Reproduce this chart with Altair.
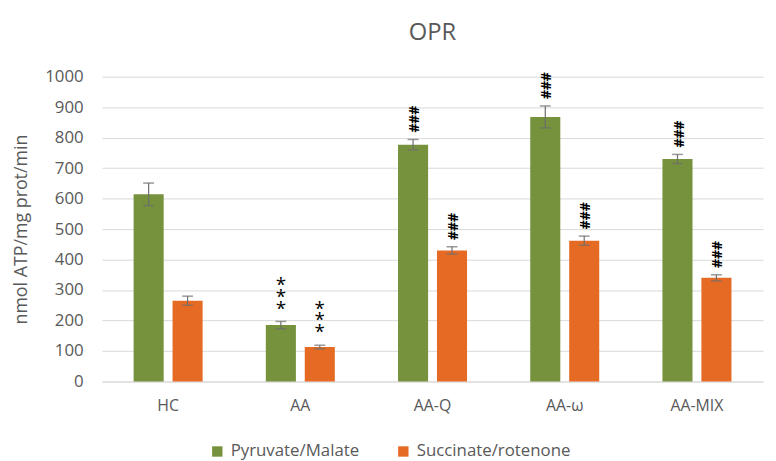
import altair as alt
import pandas as pd

categories = ["HC", "AA", "AA-Q", "AA-ω", "AA-MIX"]
series = ["Pyruvate/Malate", "Succinate/rotenone"]
pm_vals = [614, 185, 777, 868, 730]
pm_err = [37, 12, 17, 36, 15]
sr_vals = [265, 113, 430, 462, 340]
sr_err = [15, 6, 12, 15, 10]
pm_sig = ["", "***", "###", "###", "###"]
sr_sig = ["", "***", "###", "###", "###"]
colors = ["#76923C", "#E56B25"]
y_ticks = list(range(0, 1001, 100))

rows = []
for i, c in enumerate(categories):
    for s, v, e, g in [(series[0], pm_vals[i], pm_err[i], pm_sig[i]),
                       (series[1], sr_vals[i], sr_err[i], sr_sig[i])]:
        rows.append({"cat": c, "series": s, "value": v, "lo": v - e, "hi": v + e,
                     "star": "*" if g == "***" else "", "hash": g if g == "###" else ""})
df = pd.DataFrame(rows)

FONT = "Open Sans"
GRAY = "#595959"

y_axis = alt.Axis(values=y_ticks, format="d", domain=False, ticks=False,
                  gridColor="#D9D9D9", labelPadding=19, labelFontSize=17,
                  labelColor=GRAY, labelFont=FONT, titleFont=FONT,
                  titleFontSize=18, titleFontWeight="normal", titleColor=GRAY,
                  titlePadding=14)
y_scale = alt.Scale(domain=[0, 1000])


def Y(field):
    return alt.Y(field, title="nmol ATP/mg prot/min", scale=y_scale, axis=y_axis)


x = alt.X("cat:N", sort=categories, title=None,
          scale=alt.Scale(paddingInner=0.478, paddingOuter=0.239),
          axis=alt.Axis(labelAngle=0, domain=True, domainColor="#D9D9D9", ticks=False,
                        labelPadding=16, labelFontSize=16, labelColor=GRAY, labelFont=FONT))
xo = alt.XOffset("series:N", sort=series, scale=alt.Scale(paddingInner=0.228, paddingOuter=0))

base = alt.Chart(df).encode(x=x, xOffset=xo)

bars = base.mark_bar().encode(
    y=Y("value:Q"),
    color=alt.Color("series:N", sort=series, scale=alt.Scale(domain=series, range=colors),
                    legend=alt.Legend(title=None, orient="none", direction="horizontal",
                                      legendX=108, legendY=370, symbolType="square",
                                      symbolSize=110, symbolStrokeWidth=0,
                                      labelFontSize=17, labelColor=GRAY, labelFont=FONT,
                                      columnPadding=36, labelOffset=5)),
)

err = base.mark_rule(color="#6E6E6E", strokeWidth=1.2).encode(y=Y("lo:Q"), y2="hi:Q")
cap_lo = base.mark_tick(color="#6E6E6E", orient="horizontal", size=11, thickness=1.5).encode(y=Y("lo:Q"))
cap_hi = base.mark_tick(color="#6E6E6E", orient="horizontal", size=11, thickness=1.5).encode(y=Y("hi:Q"))

star_layers = [
    base.mark_text(fontSize=19, baseline="alphabetic", dy=d, color="#000000", font=FONT)
    .encode(y=Y("hi:Q"), text="star:N")
    for d in (-7, -19, -31)
]

hashes = base.mark_text(angle=90, align="right", baseline="middle", fontSize=14,
                        fontWeight="bold", dx=-7, color="#000000", font=FONT).encode(
    y=Y("hi:Q"), text="hash:N")

chart = alt.layer(bars, err, cap_lo, cap_hi, *star_layers, hashes).properties(
    width=668, height=308,
    padding={"top": 10, "left": 5, "right": 5, "bottom": 5},
    title=alt.Title("OPR", fontSize=24, font=FONT, fontWeight="normal", color=GRAY,
                    anchor="middle", offset=16),
).configure_view(stroke=None)

chart.save("out.html", embed_options={"renderer": "svg", "actions": False})
